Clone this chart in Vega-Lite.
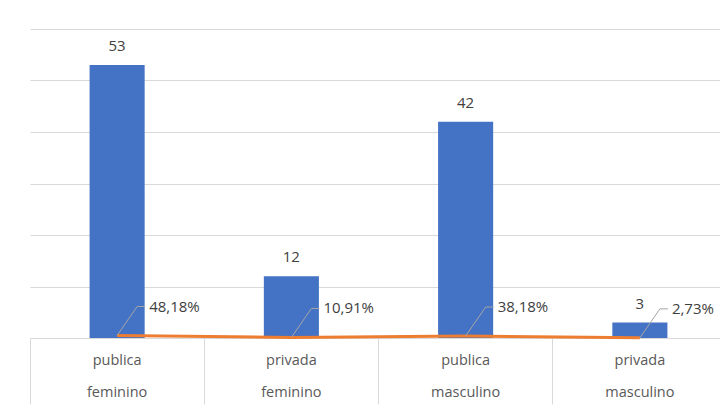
{
  "$schema": "https://vega.github.io/schema/vega-lite/v6.json",
  "width": 690,
  "height": 309,
  "autosize": {"type": "none"},
  "padding": {"left": 30, "top": 29, "right": 0, "bottom": 70},
  "background": "white",
  "config": {
    "view": {"stroke": null},
    "font": "Open Sans",
    "locale": {"number": {"decimal": ",", "thousands": ".", "grouping": [3], "currency": ["", ""]}}
  },
  "data": {
    "values": [
      {"categoria": "publica feminino", "n": 53, "pct": 0.4818},
      {"categoria": "privada feminino", "n": 12, "pct": 0.1091},
      {"categoria": "publica masculino", "n": 42, "pct": 0.3818},
      {"categoria": "privada masculino", "n": 3, "pct": 0.0273}
    ]
  },
  "encoding": {
    "x": {
      "field": "categoria",
      "type": "nominal",
      "sort": null,
      "scale": {"range": [0, 697], "paddingInner": 0, "paddingOuter": 0},
      "axis": {
        "title": null,
        "labelAngle": 0,
        "labelExpr": "split(datum.label, ' ')",
        "labelFontSize": 14.5,
        "labelColor": "#595959",
        "labelLineHeight": 32,
        "labelPadding": -51,
        "labelBaseline": "top",
        "domainColor": "#d9d9d9",
        "tickColor": "#d9d9d9",
        "tickSize": 66,
        "bandPosition": 0,
        "grid": false
      }
    }
  },
  "layer": [
    {
      "mark": {"type": "bar", "color": "#4472C4", "width": {"band": 0.316}},
      "encoding": {
        "y": {
          "field": "n",
          "type": "quantitative",
          "scale": {"domain": [0, 60], "nice": false},
          "axis": {
            "title": null,
            "values": [0, 10, 20, 30, 40, 50, 60],
            "labels": false,
            "ticks": false,
            "domain": false,
            "grid": true,
            "gridColor": "#d9d9d9"
          }
        }
      }
    },
    {
      "mark": {"type": "text", "fontSize": 15, "color": "#404040", "baseline": "middle", "dy": -19},
      "encoding": {
        "y": {"field": "n", "type": "quantitative"},
        "text": {"field": "n", "type": "quantitative"}
      }
    },
    {
      "mark": {"type": "line", "color": "#ED7D31", "strokeWidth": 3},
      "encoding": {
        "y": {"field": "pct", "type": "quantitative"}
      }
    },
    {
      "mark": {"type": "rule", "color": "#a6a6a6", "strokeWidth": 1, "x2Offset": 20, "y2Offset": -29},
      "encoding": {
        "x2": {"field": "categoria"},
        "y": {"field": "pct", "type": "quantitative"},
        "y2": {"field": "pct"}
      }
    },
    {
      "mark": {"type": "rule", "color": "#a6a6a6", "strokeWidth": 1, "xOffset": 20, "x2Offset": 28, "yOffset": -29, "y2Offset": -29},
      "encoding": {
        "x2": {"field": "categoria"},
        "y": {"field": "pct", "type": "quantitative"},
        "y2": {"field": "pct"}
      }
    },
    {
      "mark": {"type": "text", "fontSize": 15, "color": "#404040", "align": "left", "baseline": "middle", "dx": 32, "dy": -29},
      "encoding": {
        "y": {"field": "pct", "type": "quantitative"},
        "text": {"field": "pct", "type": "quantitative", "format": ".2%"}
      }
    }
  ]
}
